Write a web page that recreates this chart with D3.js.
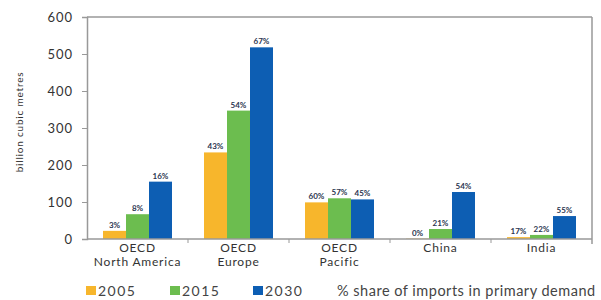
<!doctype html>
<html lang="en">
<head>
<meta charset="utf-8">
<title>Net gas imports by region</title>
<script src="https://cdn.jsdelivr.net/npm/d3@7"></script>
<style>
  body { margin: 0; background: #fff; }
  svg { display: block; font-family: "Lato", "Open Sans", sans-serif; }
</style>
</head>
<body>
<svg id="chart" width="601" height="300"></svg>
<script>
// data
var regions = ["OECD\nNorth America", "OECD\nEurope", "OECD\nPacific", "China", "India"];
var years = ["2005", "2015", "2030"];
var imports2005 = [22, 234, 99, 1, 5];
var imports2015 = [67, 347, 110, 27, 11];
var imports2030 = [155, 518, 107, 127, 62];
var share2005 = ["3%", "43%", "60%", "0%", "17%"];
var share2015 = ["8%", "54%", "57%", "21%", "22%"];
var share2030 = ["16%", "67%", "45%", "54%", "55%"];
var yTicks = [0, 100, 200, 300, 400, 500, 600];
var colors = ["#f7b62c", "#6cbd4f", "#0d5eb3"];

var values = [imports2005, imports2015, imports2030];
var shares = [share2005, share2015, share2030];

var margin = { top: 17, right: 9, bottom: 61, left: 87 };
var width = 601 - margin.left - margin.right;
var height = 300 - margin.top - margin.bottom;

var svg = d3.select("#chart");
var g = svg.append("g").attr("transform", "translate(" + margin.left + "," + margin.top + ")");

var x0 = d3.scaleBand().domain(regions).range([0, width]);
var x1 = d3.scaleBand().domain(years).range([16, x0.bandwidth() - 16]);
var y = d3.scaleLinear().domain([0, 600]).range([height, 0]);

// frame: top and right lines
g.append("line").attr("x1", 0).attr("x2", width).attr("y1", 0).attr("y2", 0)
  .attr("stroke", "#999").attr("stroke-width", 1.5);
g.append("line").attr("x1", width).attr("x2", width).attr("y1", 0).attr("y2", height + 5)
  .attr("stroke", "#999").attr("stroke-width", 1.5);

// bars
var groups = g.selectAll(".region").data(regions).enter().append("g")
  .attr("class", "region")
  .attr("transform", function(d) { return "translate(" + x0(d) + ",0)"; });

groups.each(function(r, i) {
  var sel = d3.select(this);
  years.forEach(function(yr, k) {
    var v = values[k][i];
    sel.append("rect")
      .attr("x", x1(yr))
      .attr("width", x1.bandwidth())
      .attr("y", y(v))
      .attr("height", height - y(v))
      .attr("fill", colors[k]);
    sel.append("text")
      .attr("x", x1(yr) + x1.bandwidth() / 2)
      .attr("y", y(v) - 3)
      .attr("text-anchor", "middle")
      .attr("font-size", 8)
      .attr("font-weight", "bold")
      .attr("fill", "#2b3550")
      .text(shares[k][i]);
  });
});

// y axis
var yAxis = g.append("g").call(d3.axisLeft(y).tickValues(yTicks).tickSize(5).tickPadding(9));
yAxis.select(".domain").attr("stroke", "#999").attr("stroke-width", 1.5);
yAxis.selectAll(".tick line").attr("stroke", "#999");
yAxis.selectAll(".tick text").attr("font-size", 13).attr("fill", "#333")
  .attr("letter-spacing", 1).attr("font-family", "Lato, sans-serif");

// x axis with ticks between categories
var xAxis = g.append("g").attr("transform", "translate(0," + height + ")");
xAxis.append("line").attr("x1", 0).attr("x2", width).attr("stroke", "#999").attr("stroke-width", 1.5);
xAxis.selectAll(".sep").data(regions.slice(1)).enter().append("line")
  .attr("x1", function(d) { return x0(d); })
  .attr("x2", function(d) { return x0(d); })
  .attr("y1", 0).attr("y2", 4)
  .attr("stroke", "#999");

// category labels, one text per line
regions.forEach(function(r) {
  r.split("\n").forEach(function(line, j) {
    xAxis.append("text")
      .attr("x", x0(r) + x0.bandwidth() / 2)
      .attr("y", 13 + j * 13.5)
      .attr("text-anchor", "middle")
      .attr("font-size", 12)
      .attr("letter-spacing", 0.8)
      .attr("fill", "#333")
      .text(line);
  });
});

// y axis title
svg.append("text")
  .attr("transform", "translate(23," + (margin.top + height / 2 - 6) + ") rotate(-90)")
  .attr("text-anchor", "middle")
  .attr("font-size", 10)
  .attr("letter-spacing", 0.8)
  .attr("fill", "#333")
  .text("billion cubic metres");

// legend
var legendX = [86, 170, 253];
var legend = svg.append("g").attr("transform", "translate(0,290)");
years.forEach(function(yr, k) {
  legend.append("rect").attr("x", legendX[k]).attr("y", -4).attr("width", 10).attr("height", 9)
    .attr("fill", colors[k]);
  legend.append("text").attr("x", legendX[k] + 12).attr("y", 6)
    .attr("font-size", 14).attr("letter-spacing", 1.5).attr("fill", "#444").text(yr);
});
legend.append("text").attr("x", 337).attr("y", 6)
  .attr("font-size", 14.5).attr("letter-spacing", 0.5).attr("fill", "#444")
  .text("% share of imports in primary demand");
</script>
</body>
</html>
